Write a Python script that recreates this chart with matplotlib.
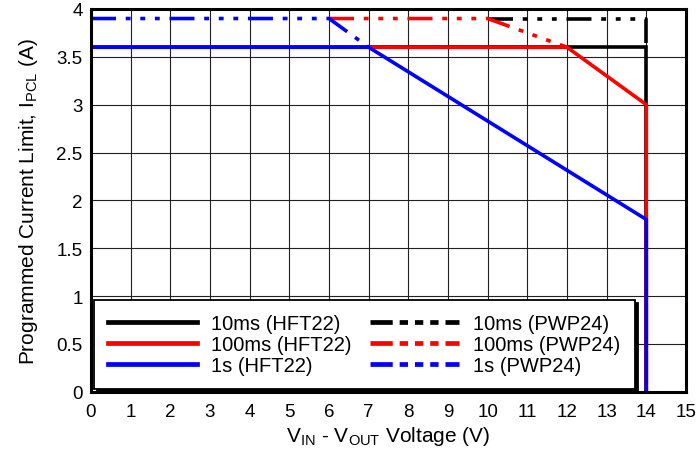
import matplotlib.pyplot as plt
from matplotlib.lines import Line2D

plt.rcParams["font.family"] = ["Liberation Sans", "DejaVu Sans"]
plt.rcParams["mathtext.fontset"] = "custom"
plt.rcParams["mathtext.rm"] = "Liberation Sans"
plt.rcParams["lines.scale_dashes"] = False

# Current limit curves (x: VIN - VOUT in V, y: current in A)
hft_10ms_x = [0, 14, 14]
hft_10ms_y = [3.6, 3.6, 0]
hft_100ms_x = [0, 12, 14, 14]
hft_100ms_y = [3.6, 3.6, 3.0, 0]
hft_1s_x = [0, 7, 14, 14]
hft_1s_y = [3.6, 3.6, 1.8, 0]

pwp_10ms_x = [10, 14, 14]
pwp_10ms_y = [3.9, 3.9, 3.6]
pwp_100ms_x = [6, 10, 12]
pwp_100ms_y = [3.9, 3.9, 3.6]
pwp_1s_x = [0, 6, 7]
pwp_1s_y = [3.9, 3.9, 3.6]

LW = 2.6
DASH = (0, (18, 7, 3.5, 7, 3.5, 7, 3.5, 7))
LEG_DASH = (0, (16, 5, 6, 5, 6, 5, 6, 5))

fig = plt.figure(figsize=(7.0, 4.52), dpi=100)
ax = fig.add_axes([0.13, 0.131, 0.85, 0.847])

ax.plot(hft_10ms_x, hft_10ms_y, color="black", lw=LW, solid_joinstyle="miter")
ax.plot(hft_100ms_x, hft_100ms_y, color="#FF0000", lw=LW, solid_joinstyle="miter")
ax.plot(hft_1s_x, hft_1s_y, color="#0000FF", lw=LW, solid_joinstyle="miter")
ax.plot(pwp_10ms_x, pwp_10ms_y, color="black", lw=LW, linestyle=DASH)
ax.plot(pwp_100ms_x, pwp_100ms_y, color="#FF0000", lw=LW, linestyle=DASH)
ax.plot(pwp_1s_x, pwp_1s_y, color="#0000FF", lw=LW, linestyle=DASH)

ax.set_xlim(0, 15)
ax.set_ylim(0, 4)
ax.set_xticks(range(0, 16))
ax.set_yticks([0, 0.5, 1, 1.5, 2, 2.5, 3, 3.5, 4])
ax.set_yticklabels(["0", "0.5", "1", "1.5", "2", "2.5", "3", "3.5", "4"])
ax.tick_params(length=0, labelsize=13.5, colors="black")
ax.tick_params(axis="x", pad=8)
ax.tick_params(axis="y", pad=6)
ax.grid(True, color="#202020", linewidth=0.8)
ax.set_axisbelow(True)
for spine in ax.spines.values():
    spine.set_linewidth(2.2)

ax.set_xlabel(r"V$_{\mathregular{IN}}$ - V$_{\mathregular{OUT}}$ Voltage (V)", fontsize=15, labelpad=3)
ax.set_ylabel(r"Programmed Current Limit, I$_{\mathregular{PCL}}$ (A)", fontsize=15, labelpad=12)

handles = [
    Line2D([], [], color="black", lw=LW + 0.8),
    Line2D([], [], color="#FF0000", lw=LW + 0.8),
    Line2D([], [], color="#0000FF", lw=LW + 0.8),
    Line2D([], [], color="black", lw=LW + 0.8, linestyle=LEG_DASH),
    Line2D([], [], color="#FF0000", lw=LW + 0.8, linestyle=LEG_DASH),
    Line2D([], [], color="#0000FF", lw=LW + 0.8, linestyle=LEG_DASH),
]
labels = ["10ms (HFT22)", "100ms (HFT22)", "1s (HFT22)",
          "10ms (PWP24)", "100ms (PWP24)", "1s (PWP24)"]
leg = ax.legend(handles, labels, ncol=2, loc="lower left", bbox_to_anchor=(0.0, 0.0),
                fontsize=14.5, handlelength=4.4, handletextpad=0.7, columnspacing=0.95,
                labelspacing=0.1, borderpad=0.7, borderaxespad=0.15, fancybox=False,
                framealpha=1, edgecolor="black",
                shadow={"ox": 2.5, "oy": -2.5, "color": "black", "alpha": 1})
leg.get_frame().set_linewidth(1.3)

fig.savefig("out.png", dpi=100)
